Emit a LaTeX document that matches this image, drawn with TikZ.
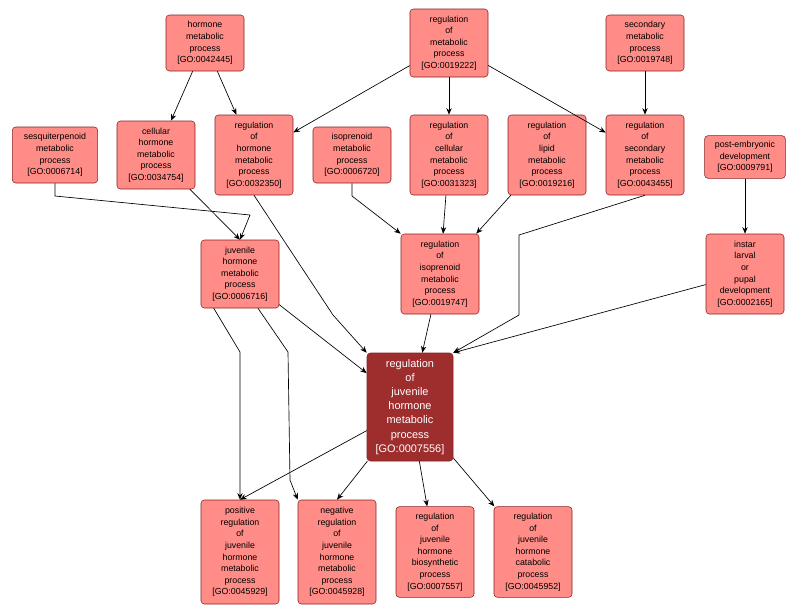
\documentclass[tikz,border=0pt]{standalone}
\usepackage{fontspec}
\setmainfont{Liberation Sans}
\usetikzlibrary{arrows.meta}
\definecolor{nfill}{HTML}{FF8C87}
\definecolor{nline}{HTML}{8B2020}
\definecolor{mfill}{HTML}{9E2E2E}
\tikzset{
 go/.style={draw=nline,fill=nfill,rounded corners=2.5pt,align=center,inner sep=1pt,
  font=\fontsize{6.6}{8.7}\selectfont,minimum width=58.5pt},
 gomain/.style={go,fill=mfill,text=white,font=\fontsize{8.2}{10.6}\selectfont,minimum width=64.5pt,minimum height=81pt},
 e/.style={-{Stealth[length=5pt,width=4pt]},black,line width=0.5pt}
}
\begin{document}
\begin{tikzpicture}[x=0.75pt,y=-0.75pt]
\useasboundingbox (0,0) rectangle (801,615);
\node[go,minimum height=42pt] (hm) at (205,43) {hormone\\metabolic\\process\\{[GO:0042445]}};
\node[go,minimum height=51pt] (rm) at (449,43) {regulation\\of\\metabolic\\process\\{[GO:0019222]}};
\node[go,minimum height=42pt] (sm) at (645,43) {secondary\\metabolic\\process\\{[GO:0019748]}};
\node[go,minimum height=42pt,minimum width=64pt] (ses) at (55,155) {sesquiterpenoid\\metabolic\\process\\{[GO:0006714]}};
\node[go,minimum height=51pt] (chm) at (156,155) {cellular\\hormone\\metabolic\\process\\{[GO:0034754]}};
\node[go,minimum height=60pt] (rhm) at (254,155) {regulation\\of\\hormone\\metabolic\\process\\{[GO:0032350]}};
\node[go,minimum height=42pt] (iso) at (352,155) {isoprenoid\\metabolic\\process\\{[GO:0006720]}};
\node[go,minimum height=60pt] (rcm) at (449,155) {regulation\\of\\cellular\\metabolic\\process\\{[GO:0031323]}};
\node[go,minimum height=60pt] (rlm) at (547,155) {regulation\\of\\lipid\\metabolic\\process\\{[GO:0019216]}};
\node[go,minimum height=60pt] (rsm) at (645,155) {regulation\\of\\secondary\\metabolic\\process\\{[GO:0043455]}};
\node[go,minimum height=32pt,minimum width=60.5pt] (ped) at (745,157) {post-embryonic\\development\\{[GO:0009791]}};
\node[go,minimum height=51pt] (jhm) at (240,274) {juvenile\\hormone\\metabolic\\process\\{[GO:0006716]}};
\node[go,minimum height=60pt] (rim) at (440,274) {regulation\\of\\isoprenoid\\metabolic\\process\\{[GO:0019747]}};
\node[go,minimum height=60pt] (ilp) at (745,274) {instar\\larval\\or\\pupal\\development\\{[GO:0002165]}};
\node[gomain] (main) at (410,407) {regulation\\of\\juvenile\\hormone\\metabolic\\process\\{[GO:0007556]}};
\node[go,minimum height=78pt] (pos) at (240,552) {positive\\regulation\\of\\juvenile\\hormone\\metabolic\\process\\{[GO:0045929]}};
\node[go,minimum height=78pt] (neg) at (337,552) {negative\\regulation\\of\\juvenile\\hormone\\metabolic\\process\\{[GO:0045928]}};
\node[go,minimum height=68pt] (bio) at (435,552) {regulation\\of\\juvenile\\hormone\\biosynthetic\\process\\{[GO:0007557]}};
\node[go,minimum height=68pt] (cat) at (533,552) {regulation\\of\\juvenile\\hormone\\catabolic\\process\\{[GO:0045952]}};
\draw[e] (hm) -- (chm);
\draw[e] (hm) -- (rhm);
\draw[e] (rm) -- (rhm);
\draw[e] (rm) -- (rcm);
\draw[e] (rm) -- (rsm);
\draw[e] (sm) -- (rsm);
\draw[e] (ped) -- (ilp);
\draw[e] (ses.south) -- (55,196) -- (250,215) -- (jhm.north);
\draw[e] (chm) -- (jhm.north);
\draw[e] (iso.south) -- (352,196) -- (rim.north west);
\draw[e] (rcm) -- (rim);
\draw[e] (rlm) -- (rim);
\draw[e] (rhm.south) -- (333,315) -- (main.north west);
\draw[e] (jhm) -- (main);
\draw[e] (rim) -- (main);
\draw[e] (rsm.south) -- (519,235) -- (519,315) -- (main.north east);
\draw[e] (ilp) -- (main.north east);
\draw[e] (jhm.south west) ++(13,0) -- (240,352) -- (pos.north);
\draw[e] (jhm.south) ++(18,0) -- (288,352) -- (290,480) -- (neg.north west);
\draw[e] (main) -- (pos.north);
\draw[e] (main) -- (neg.north);
\draw[e] (main) -- (bio);
\draw[e] (main) -- (cat);
\end{tikzpicture}
\end{document}
